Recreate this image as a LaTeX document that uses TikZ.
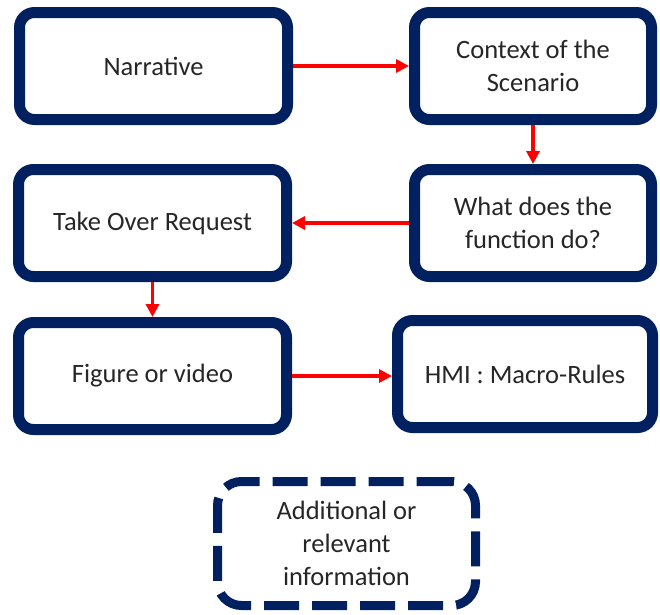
\documentclass[tikz,border=0pt]{standalone}
\usepackage{fontspec}
\setmainfont{Carlito}
\usetikzlibrary{arrows.meta}
\definecolor{navy}{HTML}{002060}
\definecolor{txt}{HTML}{262626}
\definecolor{arr}{HTML}{FF0000}
\begin{document}
\begin{tikzpicture}[x=1pt,y=-1pt,
  box/.style={draw=navy,line width=11pt,rounded corners=15pt,fill=white,
    text=txt,align=center,font=\fontsize{26.5}{33}\selectfont,
    minimum width=268pt,minimum height=107pt,inner sep=0pt},
  dbox/.style={box,line width=9pt,dash pattern=on 35pt off 13pt,rounded corners=24pt},
  flow/.style={draw=arr,line width=3.6pt,-{Triangle[length=13pt,width=13pt]}}]
\useasboundingbox (0,0) rectangle (660,614);
\node[box] (narr) at (153.5,66) {Narrative};
\node[box,minimum width=237pt] (ctx) at (533,66) {Context of the\\Scenario};
\node[box,minimum width=237pt] (what) at (533,223) {What does the\\function do?};
\node[box] (take) at (152.5,223) {Take Over Request};
\node[box] (fig) at (152.5,376) {Figure or video};
\node[box,minimum width=255pt] (hmi) at (525,374) {HMI : Macro-Rules};
\node[dbox,minimum width=258pt,minimum height=124pt] (add) at (346.5,543.5) {Additional or\\relevant\\information};
\draw[flow] (narr.east) -- (ctx.west);
\draw[flow] (ctx.south) -- (what.north);
\draw[flow] (what.west) -- (take.east);
\draw[flow] (take.south) -- (fig.north);
\draw[flow] (fig.east) -- (fig.east -| hmi.west);
\end{tikzpicture}
\end{document}
